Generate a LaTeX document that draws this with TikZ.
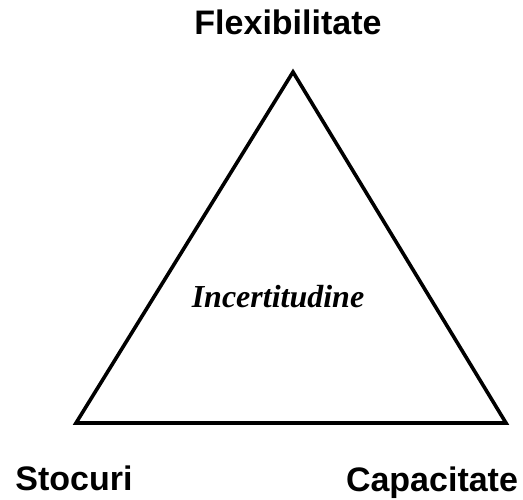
\documentclass[tikz,border=0pt]{standalone}
\usepackage{fontspec}
\setmainfont{Liberation Serif}
\setsansfont{Liberation Sans}
\usepackage{tikz}
\tikzset{corner/.style={font=\sffamily\bfseries\fontsize{34}{37}\selectfont, anchor=base, inner sep=0pt}}
\begin{document}
\begin{tikzpicture}[x=1pt,y=-1pt]
    \useasboundingbox (0,0) rectangle (523,500);
    \coordinate (top) at (293,72);
    \coordinate (left) at (76,423);
    \coordinate (right) at (506,423);
    \draw[line width=3.6pt, line join=miter] (top) -- (left) -- (right) -- cycle;
    \node[corner] (flex) at (288,35) {Flexibilitate};
    \node[corner] (stoc) at (74,490) {Stocuri};
    \node[corner] (cap) at (432,491) {Capacitate};
    \node[font=\rmfamily\bfseries\itshape\fontsize{32}{35}\selectfont, anchor=base, inner sep=0pt] (inc) at (278,308) {Incertitudine};
\end{tikzpicture}
\end{document}
